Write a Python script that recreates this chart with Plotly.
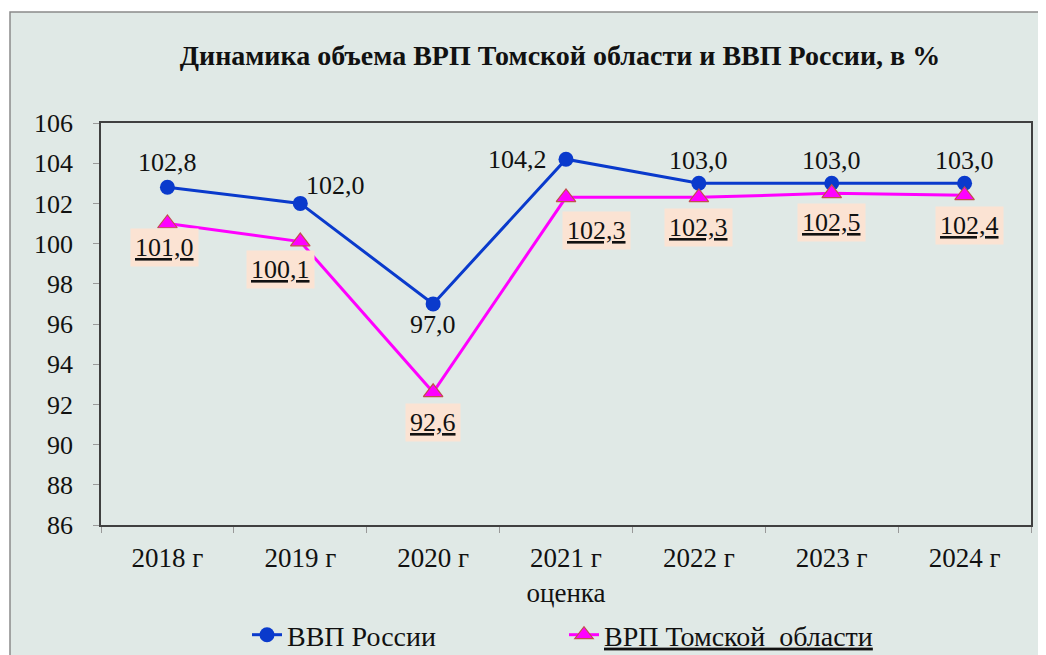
import plotly.graph_objects as go

categories = ["2018 г", "2019 г", "2020 г", "2021 г", "2022 г", "2023 г", "2024 г"]
tick_labels = ["2018 г", "2019 г", "2020 г", "2021 г<br>оценка", "2022 г", "2023 г", "2024 г"]
russia_gdp = [102.8, 102.0, 97.0, 104.2, 103.0, 103.0, 103.0]
tomsk_grp = [101.0, 100.1, 92.6, 102.3, 102.3, 102.5, 102.4]
russia_name = "ВВП России"
tomsk_name = "<u>ВРП Томской  области</u>"
title_text = "Динамика объема ВРП Томской области и ВВП России, в %"

# label offsets (px) relative to markers
russia_off = [(0, 25), (35, 18), (0, -21), (-49, 0), (0, 23), (0, 23), (0, 23)]
tomsk_off = [(-3, -24), (-20, -28), (0, -30), (30, -33), (0, -30), (0, -29), (5, -30)]

SERIF = "Liberation Serif"
BG = "#e0e9e6"
W, H = 1038, 647  # page body adds an 8px offset

fig = go.Figure()
fig.add_trace(go.Scatter(
    x=categories, y=russia_gdp, name=russia_name, mode="lines+markers",
    line=dict(color="#0a3acc", width=3),
    marker=dict(symbol="circle", size=15, color="#0a3acc", line=dict(width=0)),
))
fig.add_trace(go.Scatter(
    x=categories, y=tomsk_grp, name=tomsk_name, mode="lines+markers",
    line=dict(color="#ff00ff", width=3),
    marker=dict(symbol="triangle-up", size=17, color="#ff00ff", line=dict(width=1.2, color="#c0504d")),
))

def fmt(v):
    return f"{v:.1f}".replace(".", ",")

for c, v, (dx, dy) in zip(categories, russia_gdp, russia_off):
    fig.add_annotation(x=c, y=v, text=fmt(v), showarrow=False, xshift=dx, yshift=dy,
                       font=dict(family=SERIF, size=26, color="#111"))
for c, v, (dx, dy) in zip(categories, tomsk_grp, tomsk_off):
    fig.add_annotation(x=c, y=v, text="<u>" + fmt(v) + "</u>", showarrow=False, xshift=dx, yshift=dy,
                       font=dict(family=SERIF, size=26, color="#111"),
                       bgcolor="#fbe3d3", borderpad=4)

# plot area in figure px: x 93..1023, y 115..517
pl, pr, pt, pb = 93, 1023, 115, 517
pw, ph = pr - pl, pb - pt
fx0 = (2 - pl) / pw
fy1 = 1 + (pt - 4) / ph
fig.add_shape(type="rect", xref="paper", yref="paper",
              x0=fx0, x1=1.1, y0=-0.5, y1=fy1,
              fillcolor=BG, line=dict(color="#8a8a8a", width=1.5), layer="below")

fig.update_layout(
    width=W, height=H,
    margin=dict(l=pl, r=W - pr, t=pt, b=H - pb, autoexpand=False),
    paper_bgcolor="white", plot_bgcolor="white",
    title=dict(text="<b>" + title_text + "</b>", x=552 / W, xref="container", xanchor="center",
               y=1 - 47 / H, yref="container", yanchor="middle",
               font=dict(family=SERIF, size=28, color="#111")),
    font=dict(family=SERIF, size=26, color="#111"),
    showlegend=True,
    legend=dict(orientation="h", x=239 / W, xref="container", xanchor="left",
                y=1 - 627 / H, yref="container", yanchor="middle",
                font=dict(family=SERIF, size=28, color="#111"),
                bgcolor="rgba(0,0,0,0)", entrywidth=272, entrywidthmode="pixels"),
)
fig.update_xaxes(
    type="category", tickmode="array", tickvals=categories, ticktext=tick_labels,
    range=[-0.5, len(categories) - 0.5],
    showgrid=False, showline=True, mirror=True, linecolor="#404040", linewidth=1.5,
    ticks="outside", tickson="boundaries", ticklen=6, tickcolor="#999",
    ticklabelstandoff=8, automargin=False, tickfont=dict(family=SERIF, size=27, color="#111"),
)
fig.update_yaxes(
    range=[86, 106], dtick=2, showgrid=False, showline=True, mirror=True,
    linecolor="#404040", linewidth=1.5, ticks="outside", ticklen=6, tickcolor="#999",
    ticklabelstandoff=15, zeroline=False, automargin=False,
    tickfont=dict(family=SERIF, size=26, color="#111"),
)

fig.write_html("out.html")
